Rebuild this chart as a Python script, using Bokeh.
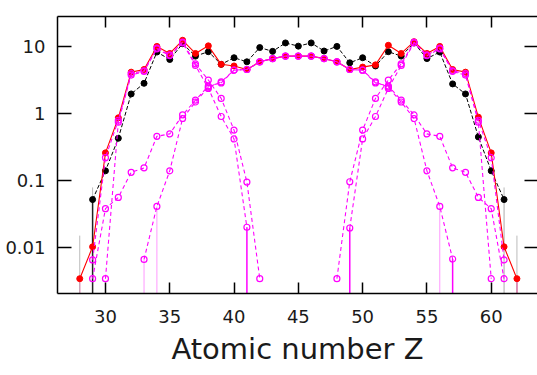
from bokeh.plotting import figure
from bokeh.models import Range1d, LogAxis, LinearAxis, FixedTicker
from bokeh.embed import file_html
from bokeh.resources import INLINE

# ---------------- data ----------------
x_ticks = [30, 35, 40, 45, 50, 55, 60]
y_ticks = [0.01, 0.1, 1, 10]
y_tick_labels = ["0.01", "0.1", "1", "10"]

z_black = list(range(29, 62))
black = [0.052, 0.14, 0.43, 1.98, 2.86, 8.4, 6.5, 11.2, 7.3, 8.5, 5.5, 6.9, 6.0,
         9.8, 8.6, 11.5, 10.3, 11.5, 8.7, 10.2, 5.8, 6.9, 5.2, 8.5, 7.3, 11.5,
         6.7, 8.4, 2.8, 1.98, 0.45, 0.14, 0.052]

z_red = list(range(28, 63))
red = [0.0034, 0.0102, 0.26, 0.87, 4.2, 4.6, 10.2, 8.0, 12.6, 8.0, 10.4, 5.5,
       5.2, 4.6, 6.0, 6.7, 7.3, 7.3, 7.3, 6.7, 6.0, 4.6, 5.0, 5.4, 10.6, 8.0,
       12.0, 8.0, 10.2, 4.6, 4.2, 0.89, 0.26, 0.0102, 0.0034]

# symmetric component (broad tails)
z_sym_a = list(range(29, 62))
sym_a = [0.0034, 0.038, 0.056, 0.133, 0.155, 0.46, 0.5, 0.96, 1.6, 2.6, 2.9,
         4.5, 4.6, 6.0, 6.7, 7.3, 7.3, 7.3, 6.7, 6.0, 4.6, 4.5, 2.9, 2.6, 1.6,
         0.96, 0.5, 0.46, 0.155, 0.133, 0.056, 0.038, 0.0034]

# symmetric component (narrow tails)
z_sym_b = list(range(33, 58))
sym_b = [0.0066, 0.041, 0.14, 0.85, 1.5, 2.5, 3.0, 4.5, 4.6, 6.0, 6.7, 7.3,
         7.3, 7.3, 6.7, 6.0, 4.6, 4.5, 3.0, 2.5, 1.5, 0.85, 0.14, 0.041, 0.0067]

# light-fragment asymmetric components
z_light_q = list(range(29, 43))
light_q = [0.0065, 0.22, 0.8, 4.0, 4.4, 9.6, 7.6, 11.8, 5.6, 3.2, 1.7, 0.57,
           0.095, 0.0034]
z_light_p = list(range(30, 42))
light_p = [0.0034, 0.75, 3.8, 4.3, 9.4, 7.4, 11.5, 5.3, 2.4, 0.91, 0.42, 0.020]

# heavy-fragment asymmetric components
z_heavy_q = list(range(48, 62))
heavy_q = [0.0034, 0.096, 0.57, 1.7, 3.2, 5.6, 11.8, 7.6, 9.6, 4.4, 4.0, 0.8,
           0.22, 0.0065]
z_heavy_p = list(range(49, 61))
heavy_p = [0.0195, 0.42, 0.91, 2.4, 5.3, 11.5, 7.4, 9.4, 4.3, 3.8, 0.75, 0.0034]

# drop lines to the bottom of the frame
stem_z = [28, 29, 33, 34, 41, 49, 56, 57, 61, 62]
stem_val = [0.0034, 0.052, 0.0066, 0.041, 0.020, 0.0195, 0.041, 0.0067, 0.052, 0.0034]
stem_color = ["#ff3399", "#222222", "#ff99ff", "#ff99ff", "#ff00ff", "#ff00ff",
              "#ff99ff", "#ff00ff", "#aaaaaa", "#ff3399"]
stem_width = [1, 1.5, 1, 1, 1.5, 1.5, 1, 1.5, 1, 1.5]

# grey error bars
err_z = [28, 29, 61, 62]
err_lo = [0.00204, 0.052, 0.052, 0.00204]
err_hi = [0.015, 0.079, 0.079, 0.015]

# ---------------- figure ----------------
y_lo, y_hi = 0.00204, 28.6
p = figure(width=537, height=375, y_axis_type="log",
           x_range=Range1d(26.27, 63.6), y_range=Range1d(y_lo, y_hi),
           output_backend="svg", toolbar_location=None,
           min_border_left=57, min_border_right=0, min_border_top=16,
           min_border_bottom=82)
p.outline_line_color = None
p.xgrid.visible = False
p.ygrid.visible = False
p.background_fill_color = "white"

FONT = "DejaVu Sans"
TXT = "#1a1a1a"

xa = p.xaxis[0]
xa.ticker = FixedTicker(ticks=x_ticks, minor_ticks=[])
xa.major_tick_in = 11
xa.major_tick_out = 0
xa.major_tick_line_width = 1.5
xa.axis_line_width = 1.5
xa.major_label_text_font = FONT
xa.major_label_text_font_size = "18px"
xa.major_label_text_color = TXT
xa.major_label_standoff = 16
xa.axis_label = "Atomic number Z"
xa.axis_label_text_font = FONT
xa.axis_label_text_font_size = "29px"
xa.axis_label_text_font_style = "normal"
xa.axis_label_text_color = TXT
xa.axis_label_standoff = 6

ya = p.yaxis[0]
ya.ticker = FixedTicker(ticks=y_ticks, minor_ticks=[])
ya.major_label_overrides = {t: s for t, s in zip(y_ticks, y_tick_labels)}
ya.major_tick_in = 14
ya.major_tick_out = 0
ya.major_tick_line_width = 1.5
ya.axis_line_width = 1.5
ya.major_label_text_font = FONT
ya.major_label_text_font_size = "18px"
ya.major_label_text_color = TXT
ya.major_label_standoff = 12

top = LinearAxis(ticker=FixedTicker(ticks=x_ticks, minor_ticks=[]))
top.major_tick_in = 11
top.major_tick_out = 0
top.major_tick_line_width = 1.5
top.axis_line_width = 1.5
top.major_label_text_font_size = "1px"
top.major_label_text_alpha = 0
top.major_label_standoff = 0
p.add_layout(top, "above")

right = LogAxis(ticker=FixedTicker(ticks=y_ticks, minor_ticks=[]))
right.major_tick_in = 13
right.major_tick_out = 0
right.major_tick_line_width = 1.5
right.axis_line_color = None
right.major_label_text_font_size = "1px"
right.major_label_text_alpha = 0
right.major_label_standoff = 0
p.add_layout(right, "right")

# stems and error bars
p.segment(x0=stem_z, y0=[y_lo] * len(stem_z), x1=stem_z, y1=stem_val,
          line_color=stem_color, line_width=stem_width)
p.segment(x0=err_z, y0=err_lo, x1=err_z, y1=err_hi, line_color="#bbbbbb", line_width=1)

MAG = "#ff00ff"

# black
p.line(z_black, black, line_color="black", line_width=1, line_dash="4 2")
p.scatter(z_black, black, marker="circle", size=6, fill_color="black", line_color="black")

# red
p.line(z_red, red, line_color="#ff0000", line_width=1.1)
p.scatter(z_red, red, marker="circle", size=6, fill_color="#ff0000", line_color="#ff0000")

# magenta components
for zz, vv in [(z_sym_a, sym_a), (z_sym_b, sym_b), (z_light_q, light_q),
               (z_light_p, light_p), (z_heavy_q, heavy_q), (z_heavy_p, heavy_p)]:
    p.line(zz, vv, line_color=MAG, line_width=1.1, line_dash="4 3")
    p.scatter(zz, vv, marker="circle", size=6, fill_color=None,
              line_color=MAG, line_width=1.2)

open("out.html", "w").write(file_html(p, INLINE))
